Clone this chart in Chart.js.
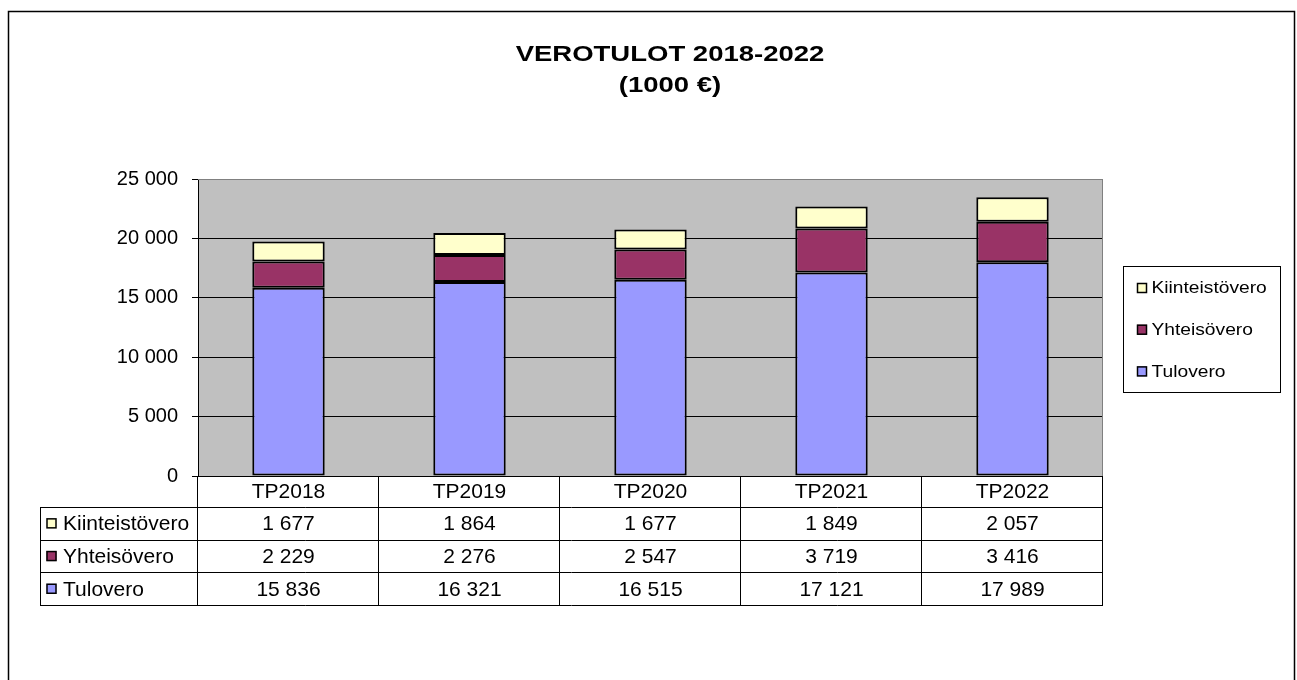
<!DOCTYPE html>
<html>
<head>
<meta charset="utf-8">
<title>Verotulot 2018-2022</title>
<script src="https://cdn.jsdelivr.net/npm/chart.js@4.4.1/dist/chart.umd.min.js"></script>
<style>
html,body{margin:0;padding:0;background:#fff}
#wrap{width:1297px;height:680px;position:relative}
</style>
</head>
<body>
<div id="wrap"><canvas id="chart"></canvas></div>
<script>
// data
const categories = ['TP2018', 'TP2019', 'TP2020', 'TP2021', 'TP2022'];
const tulovero = [15836, 16321, 16515, 17121, 17989];
const yhteisovero = [2229, 2276, 2547, 3719, 3416];
const kiinteistovero = [1677, 1864, 1677, 1849, 2057];
const yTicks = [0, 5000, 10000, 15000, 20000, 25000];
const titleLines = ['VEROTULOT 2018-2022', '(1000 €)'];

const FONT = '"Liberation Sans", Arial, sans-serif';
const fmt = v => String(v).replace(/\B(?=(\d{3})+(?!\d))/g, ' ');

const line = (ctx, x1, y1, x2, y2) => { ctx.beginPath(); ctx.moveTo(x1, y1); ctx.lineTo(x2, y2); ctx.stroke(); };

const key = (ctx, x, y, color) => {
  ctx.fillStyle = color;
  ctx.fillRect(x, y, 10, 10);
  ctx.strokeStyle = '#000';
  ctx.lineWidth = 1.5;
  ctx.strokeRect(x + 0.5, y + 0.5, 9, 9);
};

// plot background, frame, title, legend and the data table (Excel look)
const excelDecor = {
  id: 'excelDecor',
  beforeDraw(chart) {
    const { ctx, chartArea: a } = chart;
    ctx.save();
    ctx.fillStyle = '#fff';
    ctx.fillRect(0, 0, chart.width, chart.height);
    ctx.fillStyle = '#C0C0C0';
    ctx.fillRect(a.left, a.top, a.right - a.left, a.bottom - a.top);
    ctx.restore();
  },
  afterDraw(chart) {
    const { ctx, chartArea: a } = chart;
    const xs = chart.scales.x;
    const n = chart.data.labels.length;
    const colW = (a.right - a.left) / n;
    const rows = chart.data.datasets.slice().reverse();
    ctx.save();

    // outer frame (open at the bottom)
    ctx.strokeStyle = '#000';
    ctx.lineWidth = 1.5;
    ctx.beginPath();
    ctx.moveTo(8.5, chart.height + 2);
    ctx.lineTo(8.5, 11.5);
    ctx.lineTo(1294.5, 11.5);
    ctx.lineTo(1294.5, chart.height + 2);
    ctx.stroke();

    // plot area border
    ctx.lineWidth = 1;
    ctx.strokeStyle = '#808080';
    line(ctx, a.left, a.top + 0.5, a.right, a.top + 0.5);
    line(ctx, a.right - 0.5, a.top, a.right - 0.5, a.bottom);

    // title
    ctx.fillStyle = '#000';
    ctx.textAlign = 'center';
    ctx.textBaseline = 'middle';
    ctx.font = 'bold 22px ' + FONT;
    ctx.save();
    ctx.scale(1.25, 1);
    titleLines.forEach((t, i) => ctx.fillText(t, 670 / 1.25, 55 + i * 31));
    ctx.restore();

    // legend
    ctx.strokeStyle = '#000';
    ctx.lineWidth = 1;
    ctx.strokeRect(1123.5, 266.5, 157, 126);
    ctx.font = '16px ' + FONT;
    ctx.textAlign = 'left';
    rows.forEach((ds, i) => {
      const cy = 288 + i * 41.7;
      key(ctx, 1137, cy - 5, ds.backgroundColor);
      ctx.save();
      ctx.scale(1.2, 1);
      ctx.fillStyle = '#000';
      ctx.fillText(ds.label, 1151.5 / 1.2, cy + 1);
      ctx.restore();
    });

    // data table
    const headTop = Math.round(a.bottom);
    const headBot = headTop + 31;
    const rowH = 32.7;
    const tLeft = 40;
    const tBottom = headBot + rowH * rows.length;
    ctx.strokeStyle = '#000';
    ctx.lineWidth = 1;
    line(ctx, a.left, headTop + 0.5, a.right, headTop + 0.5);
    for (let r = 0; r <= rows.length; r++) {
      const y = Math.round(headBot + r * rowH) + 0.5;
      line(ctx, tLeft, y, a.right, y);
    }
    line(ctx, tLeft + 0.5, headBot, tLeft + 0.5, Math.round(tBottom) + 1);
    for (let k = 0; k <= n; k++) {
      const x = Math.round(a.left + k * colW) - 0.5;
      line(ctx, x, headTop, x, Math.round(tBottom) + 1);
    }
    ctx.font = '21px ' + FONT;
    ctx.fillStyle = '#000';
    ctx.textAlign = 'center';
    chart.data.labels.forEach((lab, i) => ctx.fillText(lab, xs.getPixelForValue(i), (headTop + headBot) / 2 + 1));
    rows.forEach((ds, r) => {
      const cy = headBot + rowH * r + rowH / 2 + 1;
      key(ctx, tLeft + 6.5, cy - 6, ds.backgroundColor);
      ctx.fillStyle = '#000';
      ctx.textAlign = 'left';
      ctx.fillText(ds.label, tLeft + 23, cy);
      ctx.textAlign = 'center';
      ds.data.forEach((v, i) => ctx.fillText(fmt(v), xs.getPixelForValue(i), cy));
    });
    ctx.restore();
  }
};

const bar = (label, data, color) => ({
  label, data,
  backgroundColor: color,
  borderColor: '#000',
  borderWidth: 2,
  borderSkipped: false,
  barPercentage: 0.4,
  categoryPercentage: 1
});

new Chart(document.getElementById('chart'), {
  type: 'bar',
  data: {
    labels: categories,
    datasets: [
      bar('Tulovero', tulovero, '#9999FF'),
      bar('Yhteisövero', yhteisovero, '#993366'),
      bar('Kiinteistövero', kiinteistovero, '#FFFFCC')
    ]
  },
  options: {
    responsive: true,
    maintainAspectRatio: false,
    animation: false,
    layout: { padding: { left: 0, right: 194, top: 179, bottom: 204 } },
    plugins: { legend: { display: false }, tooltip: { enabled: false }, title: { display: false } },
    scales: {
      x: { stacked: true, display: false },
      y: {
        stacked: true,
        min: yTicks[0],
        max: yTicks[yTicks.length - 1],
        afterFit: s => { s.width = 198; },
        afterBuildTicks: s => { s.ticks = yTicks.map(v => ({ value: v })); },
        ticks: { color: '#000', padding: 14, font: { family: FONT, size: 20 }, callback: v => fmt(v) },
        grid: {
          color: c => (c.tick && c.tick.value === yTicks[yTicks.length - 1]) ? '#808080' : '#000',
          tickColor: '#000',
          tickLength: 6,
          lineWidth: 1
        },
        border: { display: true, color: '#000', width: 1 }
      }
    }
  },
  plugins: [excelDecor]
});
</script>
</body>
</html>
